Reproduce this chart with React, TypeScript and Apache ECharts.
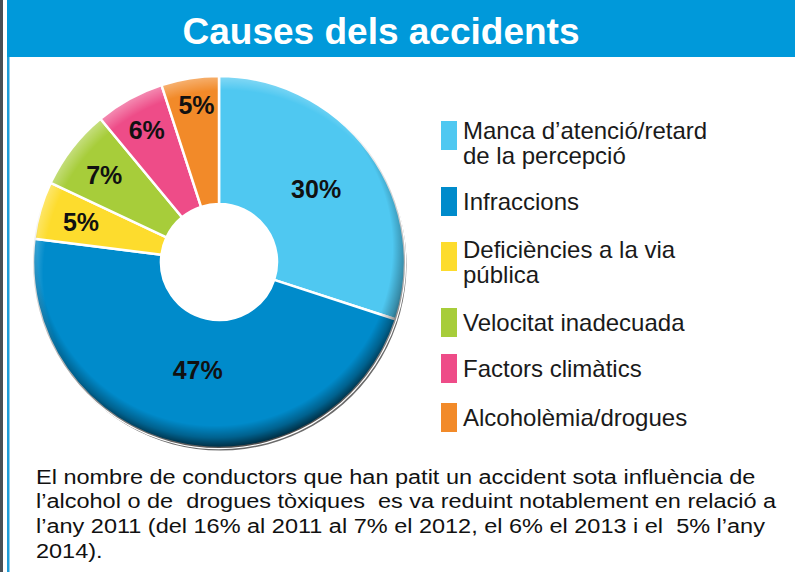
import React, { useEffect, useRef } from "react";
import * as echarts from "echarts";

const categories = [
  "Manca d’atenció/retard de la percepció",
  "Infraccions",
  "Deficiències a la via pública",
  "Velocitat inadecuada",
  "Factors climàtics",
  "Alcoholèmia/drogues",
];
const legendLines = [
  ["Manca d’atenció/retard", "de la percepció"],
  ["Infraccions"],
  ["Deficiències a la via", "pública"],
  ["Velocitat inadecuada"],
  ["Factors climàtics"],
  ["Alcoholèmia/drogues"],
];
const values = [30, 47, 5, 7, 6, 5];
const colors = ["#4FC8F1", "#008BCB", "#FDDC2D", "#A7CD3A", "#EE4C88", "#F28A29"];
const labelOffsets = [
  [-4, 0],
  [6, -14],
  [-18, -5],
  [-16, -10],
  [-12, -22],
  [-3, -34],
];
const titleText = "Causes dels accidents";
const footerLines = [
  "El nombre de conductors que han patit un accident sota influència de",
  "l’alcohol o de  drogues tòxiques  es va reduint notablement en relació a",
  "l’any 2011 (del 16% al 2011 al 7% el 2012, el 6% el 2013 i el  5% l’any",
  "2014).",
];

const FONT = "'Liberation Sans', Arial, Helvetica, sans-serif";

export default function App() {
  const ref = useRef<HTMLDivElement>(null);
  useEffect(() => {
    if (!ref.current) return;
    const chart = echarts.init(ref.current, null, { renderer: "svg" });
    const cx = 219;
    const cy = 262;
    const legendTops = [103.5, 185, 226, 306, 352, 401];
    const legendShift = [14, 0, 11, 0, 0, 0];
    const LFS = 24;
    const option: any = {
      animation: false,
      backgroundColor: "#ffffff",
      legend: categories.map((name, i) => ({
        show: true,
        data: [name],
        left: 439,
        top: legendTops[i],
        orient: "vertical",
        padding: 0,
        itemGap: 0,
        itemWidth: 18,
        itemHeight: 31,
        icon: "rect",
        selectedMode: false,
        formatter: () =>
          legendLines[i].length > 1
            ? "{s| }\n" + legendLines[i].map((l) => `{t|${l}}`).join("\n")
            : legendLines[i][0],
        textStyle: {
          fontFamily: FONT,
          fontSize: LFS,
          lineHeight: 25,
          color: "#1a1a1a",
          rich: {
            s: { fontSize: 1, lineHeight: legendShift[i] || 1 },
            t: { fontFamily: FONT, fontSize: LFS, lineHeight: 25, color: "#1a1a1a" },
          },
        },
      })),
      graphic: [
        { type: "rect", shape: { x: 0, y: 0, width: 3, height: 572 }, style: { fill: "#4a4f55" }, z: 10 },
        { type: "rect", shape: { x: 7, y: 0, width: 788, height: 57 }, style: { fill: "#0099DA" }, z: 10 },
        { type: "rect", shape: { x: 7, y: 57, width: 2.5, height: 515 }, style: { fill: "#1E9CD8" }, z: 10 },
        {
          type: "text",
          x: 381,
          y: 31,
          z: 11,
          style: {
            text: titleText,
            fill: "#ffffff",
            font: `bold 37px ${FONT}`,
            textAlign: "center",
            textVerticalAlign: "middle",
          },
        },
        ...footerLines.map((t, i) => ({
          type: "text",
          x: 36,
          y: 477 + i * 24.7,
          scaleX: 1.205,
          z: 11,
          style: {
            text: t,
            fill: "#111111",
            font: `19.5px ${FONT}`,
            textAlign: "left",
            textVerticalAlign: "middle",
          },
        })),
      ],
      series: [
        {
          type: "pie",
          name: "shadow",
          silent: true,
          z: 1,
          center: [cx + 1.5, cy + 2.5],
          radius: [61, 186],
          label: { show: false },
          labelLine: { show: false },
          data: [{ value: 1, name: "_s", itemStyle: { color: "#6b6b6b" } }],
          legendHoverLink: false,
        },
        {
          type: "pie",
          name: "Causes",
          z: 2,
          center: [cx, cy],
          radius: [58, 186],
          startAngle: 90,
          clockwise: true,
          avoidLabelOverlap: false,
          labelLayout: { hideOverlap: false },
          itemStyle: { borderColor: "#ffffff", borderWidth: 2.5 },
          label: {
            show: true,
            position: "inside",
            formatter: "{c}%",
            fontFamily: FONT,
            fontWeight: "bold",
            fontSize: 25,
            color: "#111111",
          },
          labelLine: { show: false },
          emphasis: { disabled: true },
          data: categories.map((name, i) => ({
            name,
            value: values[i],
            itemStyle: { color: colors[i] },
            label: { offset: labelOffsets[i] },
          })),
        },
        {
          type: "pie",
          name: "highlight",
          silent: true,
          z: 3,
          center: [cx, cy],
          radius: [58, 186],
          label: { show: false },
          labelLine: { show: false },
          data: [
            {
              value: 1,
              name: "_h",
              itemStyle: {
                color: {
                  type: "radial",
                  x: cx + 8,
                  y: cy + 12,
                  r: 204,
                  global: true,
                  colorStops: [
                    { offset: 0, color: "rgba(255,255,255,0)" },
                    { offset: 0.9, color: "rgba(255,255,255,0)" },
                    { offset: 1, color: "rgba(255,255,255,0.45)" },
                  ],
                },
              },
            },
          ],
        },
        {
          type: "pie",
          name: "bevel",
          silent: true,
          z: 4,
          center: [cx, cy],
          radius: [58, 186],
          label: { show: false },
          labelLine: { show: false },
          data: [
            {
              value: 1,
              name: "_b",
              itemStyle: {
                color: {
                  type: "radial",
                  x: cx - 4,
                  y: cy - 14,
                  r: 204,
                  global: true,
                  colorStops: [
                    { offset: 0, color: "rgba(0,0,0,0)" },
                    { offset: 0.87, color: "rgba(0,0,0,0)" },
                    { offset: 0.93, color: "rgba(0,0,0,0.3)" },
                    { offset: 1, color: "rgba(0,0,0,0.85)" },
                  ],
                },
              },
            },
          ],
        },
      ],
    };
    chart.setOption(option);
    return () => chart.dispose();
  }, []);
  return (
    <div
      ref={ref}
      style={{ position: "fixed", left: 0, top: 0, width: 795, height: 572 }}
    />
  );
}
